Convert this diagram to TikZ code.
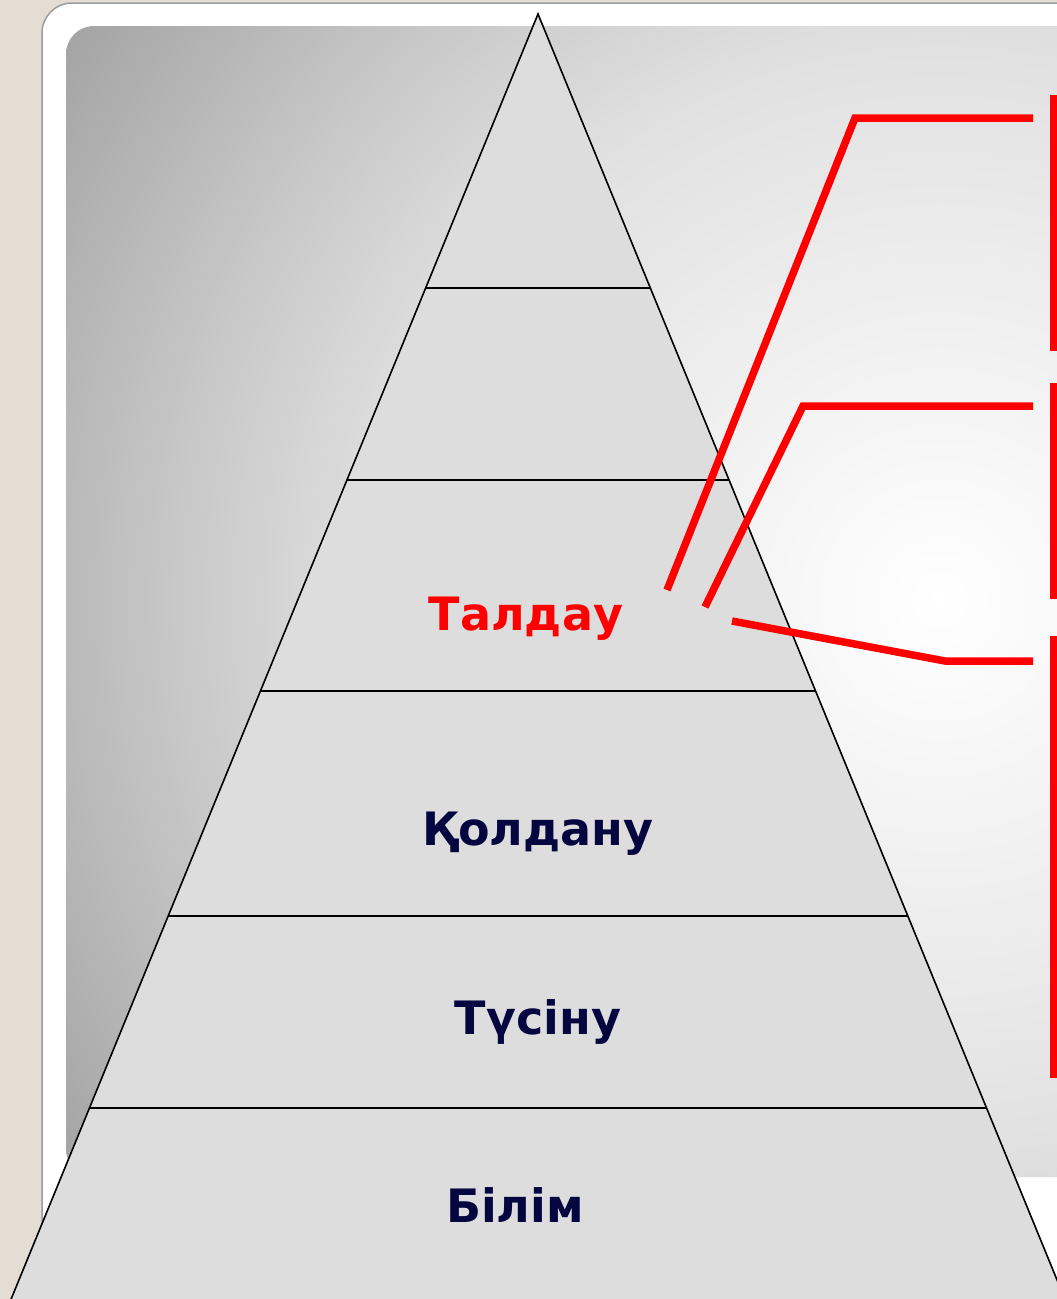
\documentclass[tikz,border=0pt]{standalone}
\usepackage{fontspec}
\setmainfont{DejaVu Sans}
\usetikzlibrary{positioning}
\definecolor{pyrBeige}{HTML}{E4DDD3}
\definecolor{pyrFrame}{HTML}{9C9C9C}
\definecolor{pyrFace}{HTML}{DDDDDD}
\definecolor{pyrNavy}{HTML}{050540}
\definecolor{pyrGlowA}{HTML}{F2F2F2}
\definecolor{pyrGlowB}{HTML}{E1E1E1}
\definecolor{pyrGlowC}{HTML}{CACACA}
\definecolor{pyrGlowD}{HTML}{A2A2A2}
\pgfdeclareradialshading{pyrglow}{\pgfpoint{0bp}{0bp}}{%
  color(0bp)=(white); color(5.5bp)=(pyrGlowA); color(12.5bp)=(pyrGlowB);
  color(17bp)=(pyrGlowC); color(24bp)=(pyrGlowD); color(50bp)=(pyrGlowD)}
\tikzset{
  pyredge/.style={draw=black, line width=1.6pt},
  pyrlab/.style={anchor=base, inner sep=0pt, font=\fontsize{46}{50}\selectfont\bfseries},
  pyrlink/.style={draw=red, line width=7.5pt},
  pyrbox/.style={draw=red, fill=white, line width=8pt, inner sep=0pt,
                 minimum width=200, anchor=north west},
}
\newcommand{\pyrSlope}{0.41}

\begin{document}
\begin{tikzpicture}[x=1pt,y=-1pt]
  \useasboundingbox (0,0) rectangle (1057,1299);
  \clip (0,0) rectangle (1057,1299);
  % slide background
  \fill[pyrBeige] (0,0) rectangle (1057,1299);
  \draw[pyrFrame, fill=white, line width=1.5pt, rounded corners=30] (42,3) rectangle (1120,1360);
  \begin{scope}
    \clip[rounded corners=28] (66,26) rectangle (1120,1177);
    \shade[shading=pyrglow] (940,600) circle[radius=1100];
  \end{scope}
  % pyramid
  \coordinate (apex) at (538,14);
  \coordinate (bl) at ({538-\pyrSlope*1285},1299);
  \coordinate (br) at ({538+\pyrSlope*1285},1299);
  \fill[pyrFace] (apex) -- (bl) -- (br) -- cycle;
  \draw[pyredge] (bl) -- (apex) -- (br);
  \foreach \ly in {288,480,691,916,1108}
    \draw[pyredge] ({538-\pyrSlope*(\ly-14)},\ly) -- ({538+\pyrSlope*(\ly-14)},\ly);
  \node[pyrlab, text=red] (talday) at (526,630) {Талдау};
  \node[pyrlab, text=pyrNavy] (qoldanu) at (538,845) {Қолдану};
  \node[pyrlab, text=pyrNavy] (tusinu) at (538,1034) {Түсіну};
  \node[pyrlab, text=pyrNavy] (bilim) at (515,1222) {Білім};
  % side boxes
  \node[pyrbox, minimum height=248] (box1) at (1050,95) {};
  \node[pyrbox, minimum height=208] (box2) at (1050,383) {};
  \node[pyrbox, minimum height=434] (box3) at (1050,636) {};
  % links
  \coordinate (l1a) at (667,590);
  \coordinate (l1b) at (855,118);
  \coordinate (l1c) at (1033,118);
  \coordinate (l2a) at (705,607);
  \coordinate (l2b) at (803,406);
  \coordinate (l2c) at (1033,406);
  \coordinate (l3a) at (732,621);
  \coordinate (l3b) at (945,661);
  \coordinate (l3c) at (1033,661);
  \draw[pyrlink] (l1a) -- (l1b) -- (l1c);
  \draw[pyrlink] (l2a) -- (l2b) -- (l2c);
  \draw[pyrlink] (l3a) -- (l3b) -- (l3c);
\end{tikzpicture}
\end{document}
